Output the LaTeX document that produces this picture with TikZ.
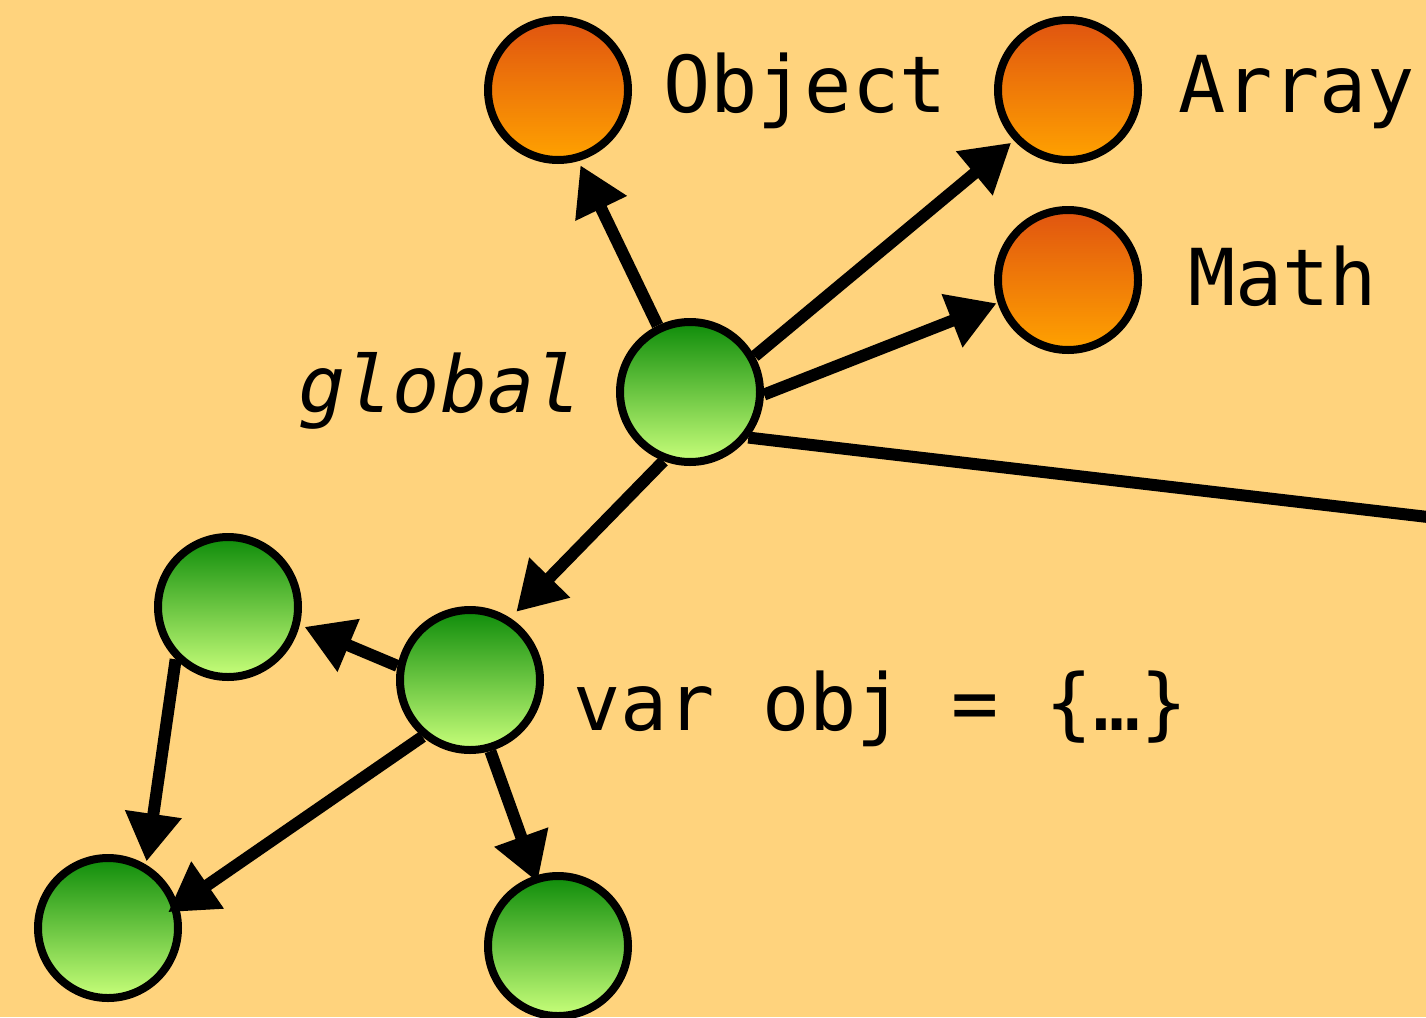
\documentclass[tikz,border=0pt]{standalone}
\usepackage{fontspec}
\setmonofont{DejaVu Sans Mono}
\usetikzlibrary{arrows.meta}
\definecolor{bgc}{RGB}{255,211,125}
\definecolor{otop}{RGB}{224,84,16}
\definecolor{obot}{RGB}{255,162,0}
\definecolor{gtop}{RGB}{14,140,10}
\definecolor{gbot}{RGB}{200,255,122}
\tikzset{
  ball/.style={circle, draw=black, line width=8pt, minimum size=140pt, inner sep=0pt},
  oball/.style={ball, top color=otop, bottom color=obot},
  gball/.style={ball, top color=gtop, bottom color=gbot},
  arr/.style={line width=12pt, -{Triangle[length=48pt,width=54pt]}},
  plain/.style={line width=12pt},
  lbl/.style={inner sep=0pt, font=\ttfamily\fontsize{78.5}{92}\selectfont}
}
\begin{document}
\begin{tikzpicture}[x=1pt,y=-1pt]
\fill[bgc] (0,0) rectangle (1426,1017);
\useasboundingbox (0,0) rectangle (1426,1017);
\node[oball] (o) at (558,90) {};
\node[oball] (a) at (1068,90) {};
\node[oball] (m) at (1068,280) {};
\node[gball] (g) at (690,392) {};
\node[gball] (v) at (470,680) {};
\node[gball] (lt) at (228,607) {};
\node[gball] (bl) at (108,928) {};
\node[gball] (bm) at (558,946) {};
\coordinate (offr) at (1445,519);
\node[lbl, anchor=base west] (to) at (663,112) {Object};
\node[lbl, anchor=base west] (ta) at (1178,112) {Array};
\node[lbl, anchor=base west] (tm) at (1188,305) {Math};
\node[lbl, anchor=base east] (tg) at (582,412) {\itshape global};
\node[lbl, anchor=base west] (tv) at (573,730) {var obj = \{…\}};
\draw[arr, shorten >=4.5pt] (g.116) -- (o.-74);
\draw[arr, shorten >=3.5pt] (g.29) -- (a.223);
\draw[arr, shorten >=1pt] (g.-2) -- (m.198);
\draw[plain] (g.-38) -- (offr);
\draw[arr, shorten >=8.5pt] (g.249) -- (v.57);
\draw[arr, shorten >=5pt] (v.169) -- (lt.-14);
\draw[arr, shorten >=3pt] (lt.225) -- (bl.59);
\draw[arr, shorten >=-12.5pt] (v.230) -- (bl.18);
\draw[arr, shorten >=-7pt] (v.286) -- (bm.108);
\end{tikzpicture}
\end{document}
